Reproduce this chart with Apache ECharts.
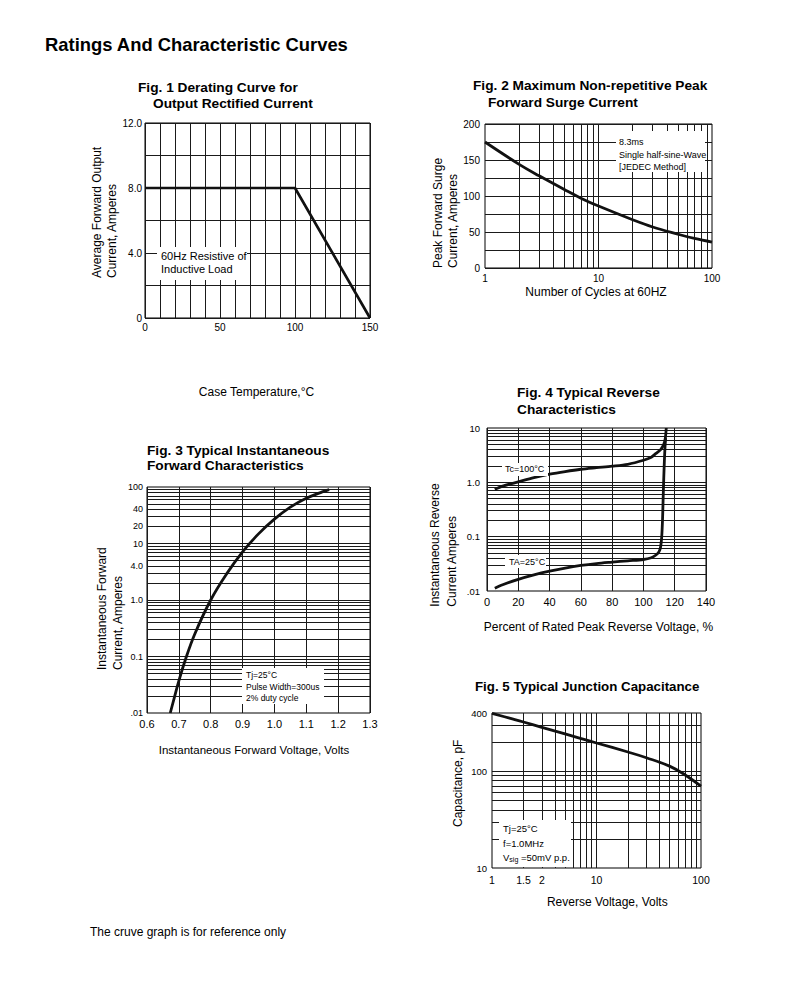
<!DOCTYPE html>
<html><head><meta charset="utf-8">
<script src="https://cdn.jsdelivr.net/npm/echarts@6/dist/echarts.min.js"></script>
<style>html,body{margin:0;padding:0;background:#fff;}#c{width:790px;height:981px;}</style>
</head><body><div id="c"></div>
<script>
// ---------------- DATA ----------------
// Fig.1 Derating curve
const fig1Temp = [0, 100, 150];
const fig1Current = [8, 8, 0];
const fig1XTicks = [0, 50, 100, 150];
const fig1XLabels = ['0', '50', '100', '150'];
const fig1YTicks = [0, 4, 8, 12];
const fig1YLabels = ['0', '4.0', '8.0', '12.0'];

// Fig.2 Surge current
const fig2Cycles = [1, 2, 3, 5, 7, 10, 20, 30, 50, 70, 100];
const fig2Surge = [175, 144, 128, 109, 97, 86, 67, 57, 47, 41, 36];
const fig2XTicks = [1, 10, 100];
const fig2XLabels = ['1', '10', '100'];
const fig2YTicks = [0, 50, 100, 150, 200];
const fig2YLabels = ['0', '50', '100', '150', '200'];

// Fig.3 Forward characteristics
const fig3Voltage = [0.673, 0.685, 0.70, 0.72, 0.75, 0.80, 0.85, 0.90, 0.95, 1.00, 1.05, 1.10, 1.15, 1.172];
const fig3Current = [0.01, 0.018, 0.037, 0.086, 0.25, 1.0, 2.9, 7.1, 14.8, 27, 44, 63, 82, 90];
const fig3XTicks = [0.6, 0.7, 0.8, 0.9, 1.0, 1.1, 1.2, 1.3];
const fig3XLabels = ['0.6', '0.7', '0.8', '0.9', '1.0', '1.1', '1.2', '1.3'];
const fig3YTicks = [0.01, 0.1, 1, 4, 10, 20, 40, 100];
const fig3YLabels = ['.01', '0.1', '1.0', '4.0', '10', '20', '40', '100'];

// Fig.4 Reverse characteristics
const fig4TcPercent = [5, 10, 20, 30, 40, 50, 60, 70, 80, 90, 100, 105, 108, 111, 113, 114, 114.6];
const fig4TcCurrent = [0.74, 0.85, 1.02, 1.22, 1.41, 1.58, 1.74, 1.86, 1.98, 2.15, 2.55, 2.9, 3.4, 4.0, 5.0, 6.5, 10];
const fig4TaPercent = [5, 10, 20, 30, 40, 50, 60, 70, 80, 90, 100, 105, 108, 110, 111, 111.7, 112.2, 112.6, 113, 113.4, 113.8, 114.2];
const fig4TaCurrent = [0.0112, 0.013, 0.0164, 0.0198, 0.0232, 0.0265, 0.0295, 0.032, 0.034, 0.036, 0.038, 0.041, 0.046, 0.053, 0.065, 0.1, 0.2, 0.5, 1.2, 2.5, 4.5, 6.5];
const fig4XTicks = [0, 20, 40, 60, 80, 100, 120, 140];
const fig4XLabels = ['0', '20', '40', '60', '80', '100', '120', '140'];
const fig4YTicks = [0.01, 0.1, 1, 10];
const fig4YLabels = ['.01', '0.1', '1.0', '10'];

// Fig.5 Junction capacitance
const fig5Voltage = [1, 1.5, 2, 3, 5, 7, 10, 20, 30, 50, 70, 100];
const fig5Cap = [397, 352, 323, 284, 243, 219, 196, 158, 138, 113, 92, 70];
const fig5XTicks = [1, 2, 3, 10, 100];
const fig5XLabels = ['1', '1.5', '2', '10', '100'];
const fig5YTicks = [10, 100, 400];
const fig5YLabels = ['10', '100', '400'];

// ---------------- HELPERS ----------------
const FONT = "'Liberation Sans', Arial, Helvetica, sans-serif";
function labelFmt(ticks, labels) {
  return function (v) {
    for (let i = 0; i < ticks.length; i++) {
      const t = ticks[i];
      if (Math.abs(v - t) <= Math.abs(t) * 1e-6 + 1e-9) return labels[i];
    }
    return '';
  };
}
function logGrid(min, max) {
  const out = [];
  for (let e = Math.floor(Math.log10(min)); e <= Math.ceil(Math.log10(max)); e++) {
    for (let m = 1; m <= 9; m++) {
      const v = +(m * Math.pow(10, e)).toPrecision(6);
      if (v > min * (1 + 1e-9) && v < max * (1 - 1e-9)) out.push(v);
    }
  }
  return out;
}
const GRIDCOLOR = '#1a1a1a';
function linAxis(gi, min, max, interval, ticks, labels, margin, fontSize) {
  return {
    type: 'value', gridIndex: gi, min, max, interval,
    axisLine: { show: false }, axisTick: { show: false },
    splitLine: { show: true, lineStyle: { color: GRIDCOLOR, width: 1 } },
    axisLabel: { customValues: ticks, formatter: labelFmt(ticks, labels), margin, color: '#000',
      fontSize, fontFamily: FONT, hideOverlap: false, showMinLabel: true, showMaxLabel: true }
  };
}
function logAxis(gi, min, max, ticks, labels, margin, fontSize) {
  return {
    type: 'log', logBase: 10, gridIndex: gi, min, max,
    axisLine: { show: false }, axisTick: { show: false }, splitLine: { show: false },
    axisLabel: { customValues: ticks, formatter: labelFmt(ticks, labels), margin, color: '#000',
      fontSize, fontFamily: FONT, hideOverlap: false, showMinLabel: true, showMaxLabel: true }
  };
}
function curve(gi, xs, ys, width, smooth, gridX, gridY) {
  const s = {
    type: 'line', xAxisIndex: gi, yAxisIndex: gi,
    data: xs.map((x, i) => [x, ys[i]]),
    symbol: 'none', showSymbol: false, smooth: smooth, silent: true, z: 20,
    lineStyle: { color: '#111', width: width }
  };
  if (gridX || gridY) {
    s.markLine = {
      silent: true, z: 1, symbol: ['none', 'none'], animation: false,
      label: { show: false }, emphasis: { disabled: true },
      lineStyle: { color: GRIDCOLOR, width: 1, type: 'solid' },
      data: [].concat((gridX || []).map(v => ({ xAxis: v })), (gridY || []).map(v => ({ yAxis: v })))
    };
  }
  return s;
}
function txt(x, y, text, size, opt) {
  opt = opt || {};
  return {
    type: 'text', x: x, y: y, z: 30, rotation: opt.rot || 0, silent: true,
    style: { text: text, fill: '#000', font: (opt.bold ? 'bold ' : '') + size + 'px ' + FONT,
      textAlign: opt.align || 'left', textVerticalAlign: 'middle' }
  };
}
function box(x, y, w, h) {
  return { type: 'rect', z: 25, silent: true, shape: { x: x, y: y, width: w, height: h }, style: { fill: '#fff' } };
}

// ---------------- CHART ----------------
const chart = echarts.init(document.getElementById('c'), null, { renderer: 'svg', width: 790, height: 981 });
const gridBase = { show: true, borderColor: '#000', borderWidth: 1, backgroundColor: 'transparent', containLabel: false };
const R = Math.PI / 2;

const option = {
  animation: false,
  backgroundColor: '#fff',
  grid: [
    Object.assign({ left: 145, top: 123, width: 225, height: 195 }, gridBase),
    Object.assign({ left: 485, top: 124, width: 227, height: 144 }, gridBase),
    Object.assign({ left: 147, top: 487, width: 223, height: 226 }, gridBase),
    Object.assign({ left: 487, top: 428, width: 219, height: 163 }, gridBase),
    Object.assign({ left: 492, top: 713, width: 209, height: 155 }, gridBase)
  ],
  xAxis: [
    linAxis(0, 0, 150, 10, fig1XTicks, fig1XLabels, 4, 10),
    logAxis(1, 1, 100, fig2XTicks, fig2XLabels, 5, 10),
    linAxis(2, 0.6, 1.3, 0.1, fig3XTicks, fig3XLabels, 5, 11),
    linAxis(3, 0, 140, 20, fig4XTicks, fig4XLabels, 5, 11),
    logAxis(4, 1, 100, fig5XTicks, fig5XLabels, 6, 10.5)
  ],
  yAxis: [
    linAxis(0, 0, 12, 2, fig1YTicks, fig1YLabels, 3, 10),
    linAxis(1, 0, 200, 25, fig2YTicks, fig2YLabels, 5, 10),
    logAxis(2, 0.01, 100, fig3YTicks, fig3YLabels, 4, 9),
    logAxis(3, 0.01, 10, fig4YTicks, fig4YLabels, 7, 9.5),
    logAxis(4, 10, 400, fig5YTicks, fig5YLabels, 5, 9.5)
  ],
  series: [
    curve(0, fig1Temp, fig1Current, 2.7, false),
    curve(1, fig2Cycles, fig2Surge, 2.8, 0.4, logGrid(1, 100), null),
    curve(2, fig3Voltage, fig3Current, 2.8, 0.4, null, logGrid(0.01, 100)),
    curve(3, fig4TcPercent, fig4TcCurrent, 2.8, 0.3, null, logGrid(0.01, 10)),
    curve(3, fig4TaPercent, fig4TaCurrent, 2.8, 0.3),
    curve(4, fig5Voltage, fig5Cap, 2.8, 0.4, logGrid(1, 100), logGrid(10, 400))
  ],
  graphic: { elements: [
    txt(45, 44.3, 'Ratings And Characteristic Curves', 18.4, { bold: true }),
    txt(90, 932, 'The cruve graph is for reference only', 12),
    // titles
    txt(138, 87.7, 'Fig. 1 Derating Curve for', 13.7, { bold: true }),
    txt(153, 103.3, 'Output Rectified Current', 13.7, { bold: true }),
    txt(473, 85, 'Fig. 2 Maximum Non-repetitive Peak', 13.7, { bold: true }),
    txt(488, 102.3, 'Forward Surge Current', 13.7, { bold: true }),
    txt(147, 450, 'Fig. 3 Typical Instantaneous', 13.7, { bold: true }),
    txt(147, 465.7, 'Forward Characteristics', 13.7, { bold: true }),
    txt(517, 392.7, 'Fig. 4 Typical Reverse', 13.7, { bold: true }),
    txt(517, 409.3, 'Characteristics', 13.7, { bold: true }),
    txt(475, 686, 'Fig. 5 Typical Junction Capacitance', 13.3, { bold: true }),
    // y axis names (rotated)
    txt(97, 278, 'Average Forward Output', 12, { rot: R }),
    txt(112, 278, 'Current, Amperes', 12, { rot: R }),
    txt(438, 268, 'Peak Forward Surge', 12, { rot: R }),
    txt(453, 268, 'Current, Amperes', 12, { rot: R }),
    txt(102, 670, 'Instantaneous Forward', 12, { rot: R }),
    txt(118, 670, 'Current, Amperes', 12, { rot: R }),
    txt(435, 606.7, 'Instantaneous Reverse', 12, { rot: R }),
    txt(451.7, 606.7, 'Current Amperes', 12, { rot: R }),
    txt(458, 827, 'Capacitance, pF', 12, { rot: R }),
    // x axis names
    txt(256.5, 391.7, 'Case Temperature,°C', 12, { align: 'center' }),
    txt(596, 291.7, 'Number of Cycles at 60HZ', 12, { align: 'center' }),
    txt(254, 750, 'Instantaneous Forward Voltage, Volts', 11.5, { align: 'center' }),
    txt(598.5, 626.7, 'Percent of Rated Peak Reverse Voltage, %', 12, { align: 'center' }),
    txt(607.3, 901.7, 'Reverse Voltage, Volts', 12, { align: 'center' }),
    // annotations
    box(157, 247, 90, 33),
    txt(161, 256, '60Hz Resistive of', 11),
    txt(161, 268.5, 'Inductive Load', 11),
    box(616, 131, 89, 41),
    txt(619, 141.7, '8.3ms', 9),
    txt(619, 154.5, 'Single half-sine-Wave', 9),
    txt(619, 166.7, '[JEDEC Method]', 9),
    box(242, 668, 82, 36),
    txt(246, 675, 'Tj=25°C', 8.5),
    txt(246, 686.7, 'Pulse Width=300us', 8.5),
    txt(246, 698, '2% duty cycle', 8.5),
    box(502, 463, 46, 13),
    txt(505, 469.3, 'Tc=100°C', 9),
    box(505, 555, 41, 13),
    txt(509, 561.7, 'TA=25°C', 9),
    box(499, 820, 72, 47),
    txt(503, 828, 'Tj=25°C', 9.5),
    txt(503, 843.3, 'f=1.0MHz', 9.5),
    { type: 'text', x: 503, y: 857, z: 30, silent: true,
      style: { text: '{v|V}{s|sig} =50mV p.p.', fill: '#000', font: '9.5px ' + FONT, textVerticalAlign: 'middle',
        rich: { v: { fontSize: 9.5, fontFamily: FONT }, s: { fontSize: 7, fontFamily: FONT, padding: [5, 0, 0, 0] } } } }
  ] }
};
chart.setOption(option);
</script>
</body></html>
